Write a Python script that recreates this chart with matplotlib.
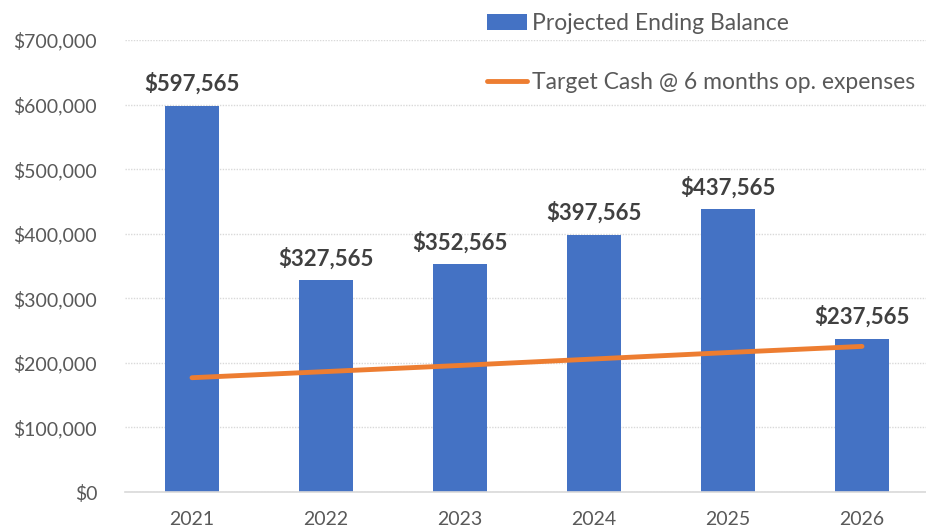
import matplotlib
matplotlib.use("Agg")
import matplotlib.pyplot as plt
from matplotlib.ticker import FuncFormatter

# data
years = ["2021", "2022", "2023", "2024", "2025", "2026"]
ending_balance = [597565, 327565, 352565, 397565, 437565, 237565]
target_cash = [177000, 186500, 196000, 206000, 216000, 225500]

BLUE = "#4472C4"
ORANGE = "#ED7D31"
GREY = "#595959"

plt.rcParams['font.family'] = ['Lato', 'DejaVu Sans']

fig = plt.figure(figsize=(9.26, 5.29), dpi=100)
ax = fig.add_axes([125/926, 37/529, 804/926, 452/529])

x = list(range(len(years)))
bars = ax.bar(x, ending_balance, width=0.41, color=BLUE, zorder=2,
              label="Projected Ending Balance")
line, = ax.plot(x, target_cash, color=ORANGE, linewidth=3.5, solid_capstyle='round',
                zorder=3, label="Target Cash @ 6 months op. expenses")

ax.bar_label(bars, labels=["${:,.0f}".format(v) for v in ending_balance],
             padding=8, fontsize=16, fontweight='bold', color="#404040")

ax.set_xlim(-0.5, 5.5)
ax.set_ylim(0, 700000)
ax.set_yticks(range(0, 700001, 100000))
ax.yaxis.set_major_formatter(FuncFormatter(lambda v, p: "${:,.0f}".format(v)))
ax.set_xticks(x)
ax.set_xticklabels(years)

ax.grid(axis='y', color="#D9D9D9", linestyle=(0, (1, 1)), linewidth=1, zorder=0)
ax.set_axisbelow(True)
for s in ["top", "right", "left"]:
    ax.spines[s].set_visible(False)
ax.spines["bottom"].set_color("#D9D9D9")
ax.spines["bottom"].set_linewidth(1.2)
ax.tick_params(axis='both', length=0, labelsize=14, labelcolor=GREY)
ax.tick_params(axis='y', pad=20)
ax.tick_params(axis='x', pad=14)

leg = fig.legend(handles=[bars, line], loc='upper left',
                 bbox_to_anchor=(487/926, 1 - 13/529),
                 frameon=False, fontsize=16.5, labelcolor=GREY,
                 handlelength=1.75, handleheight=0.7, handletextpad=0.22,
                 labelspacing=1.65, borderaxespad=0, borderpad=0)

fig.savefig("out.png", dpi=100)
